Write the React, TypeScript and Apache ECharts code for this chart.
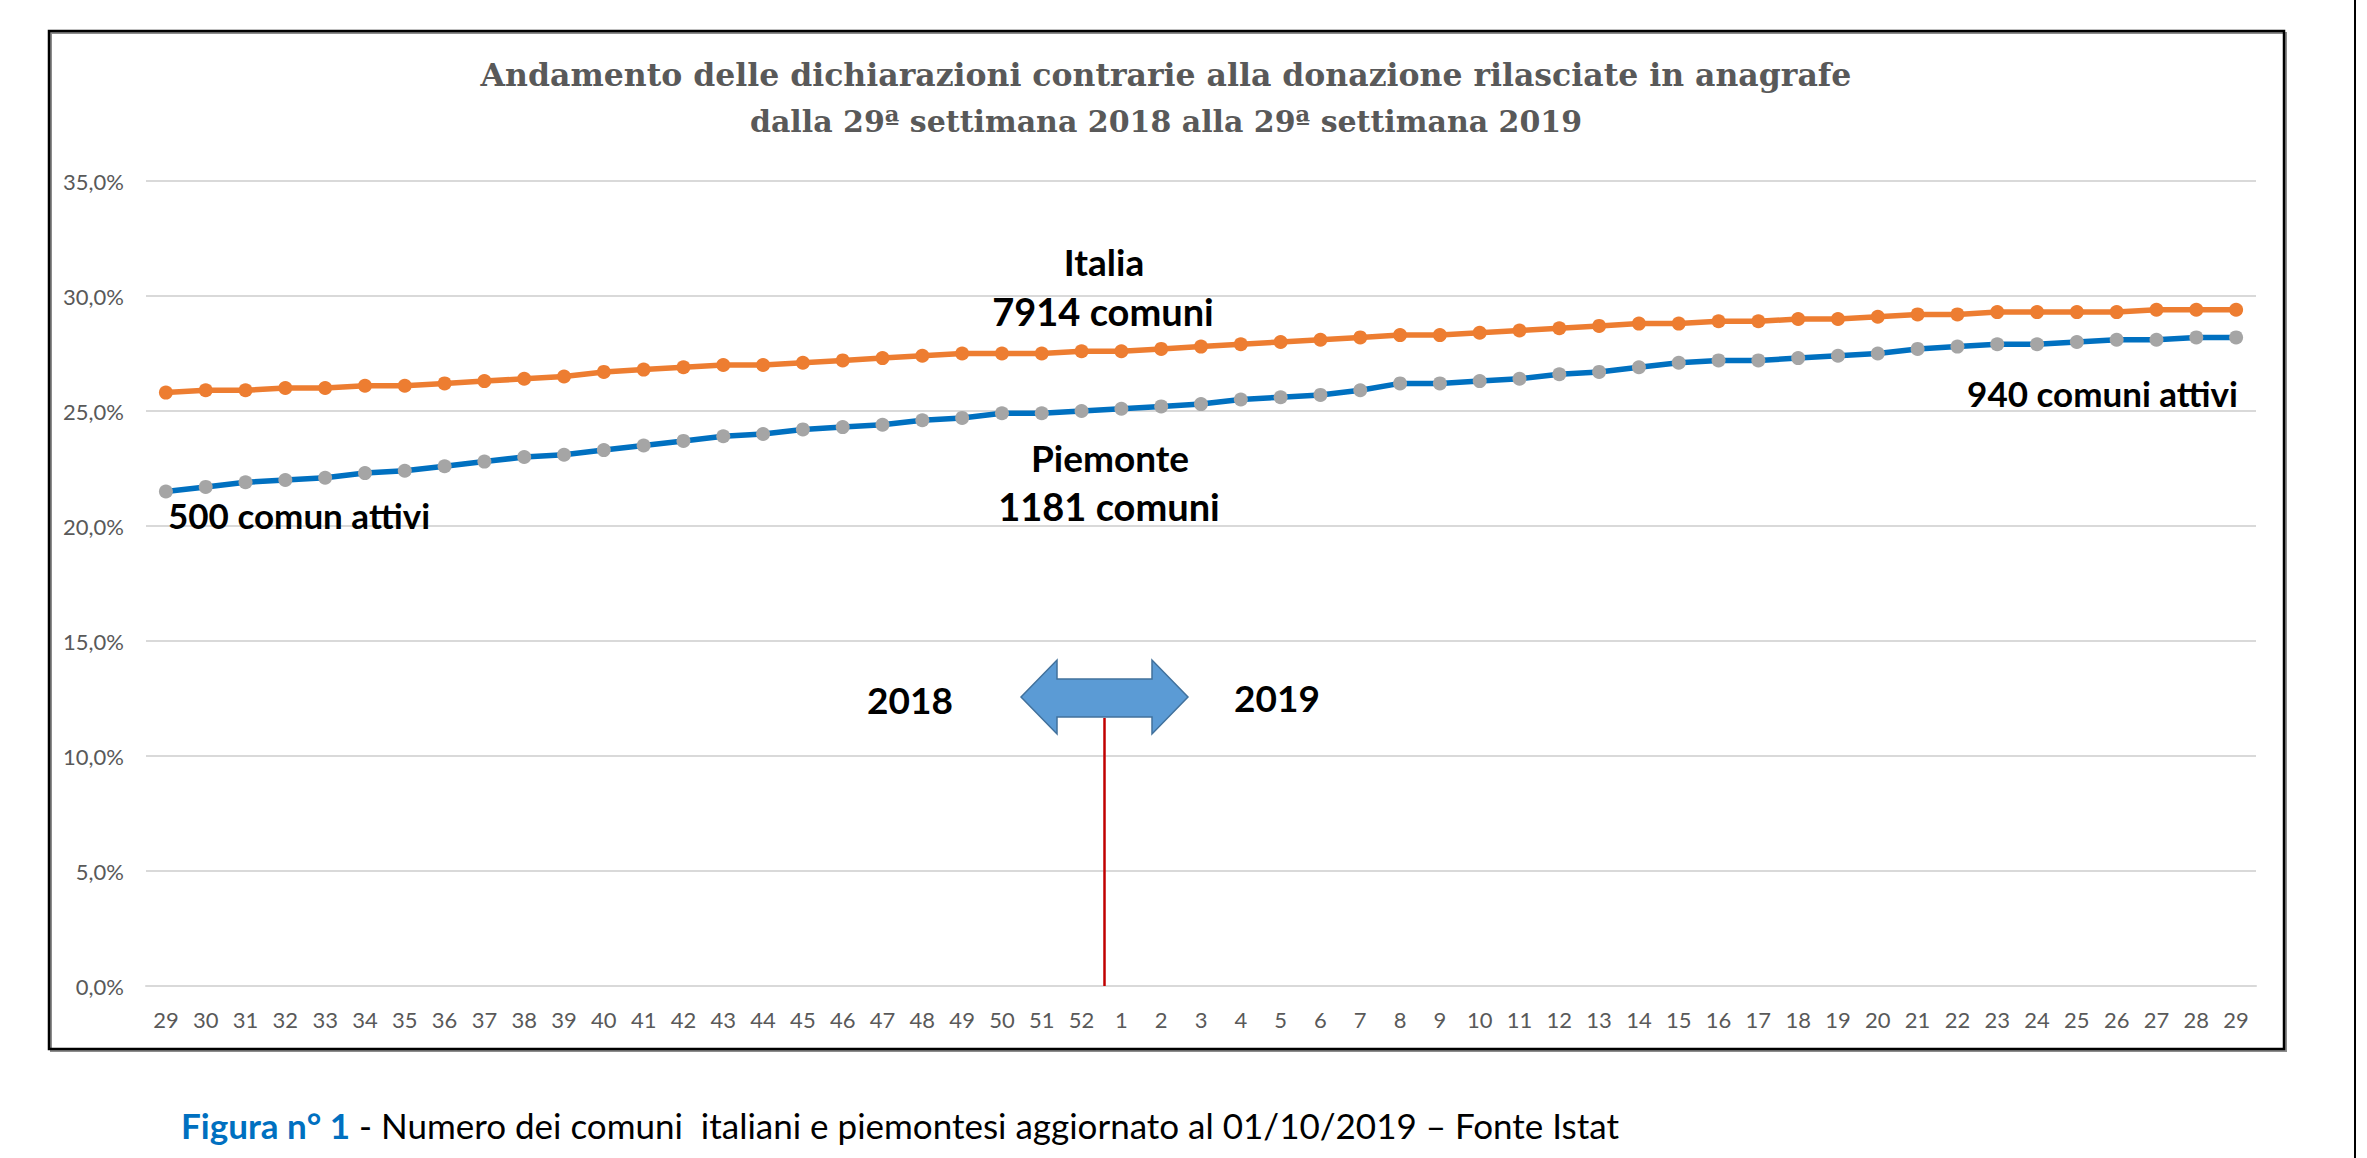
import React, { useEffect, useRef } from "react";
import * as echarts from "echarts";

const weeks: string[] = [
  "29", "30", "31", "32", "33", "34", "35", "36", "37", "38", "39", "40", "41", "42", "43", "44", "45", "46", "47", "48", "49", "50", "51", "52",
  "1", "2", "3", "4", "5", "6", "7", "8", "9", "10", "11", "12", "13", "14", "15", "16", "17", "18", "19", "20", "21", "22", "23", "24", "25", "26", "27", "28", "29",
];

const italia: number[] = [
  25.8, 25.9, 25.9, 26.0, 26.0, 26.1, 26.1, 26.2, 26.3, 26.4, 26.5, 26.7, 26.8, 26.9, 27.0, 27.0, 27.1, 27.2, 27.3, 27.4, 27.5, 27.5, 27.5, 27.6,
  27.6, 27.7, 27.8, 27.9, 28.0, 28.1, 28.2, 28.3, 28.3, 28.4, 28.5, 28.6, 28.7, 28.8, 28.8, 28.9, 28.9, 29.0, 29.0, 29.1, 29.2, 29.2, 29.3, 29.3, 29.3, 29.3, 29.4, 29.4, 29.4,
];

const piemonte: number[] = [
  21.5, 21.7, 21.9, 22.0, 22.1, 22.3, 22.4, 22.6, 22.8, 23.0, 23.1, 23.3, 23.5, 23.7, 23.9, 24.0, 24.2, 24.3, 24.4, 24.6, 24.7, 24.9, 24.9, 25.0,
  25.1, 25.2, 25.3, 25.5, 25.6, 25.7, 25.9, 26.2, 26.2, 26.3, 26.4, 26.6, 26.7, 26.9, 27.1, 27.2, 27.2, 27.3, 27.4, 27.5, 27.7, 27.8, 27.9, 27.9, 28.0, 28.1, 28.1, 28.2, 28.2,
];

const titleLines: string[] = [
  "Andamento delle dichiarazioni contrarie alla donazione rilasciate in anagrafe",
  "dalla 29ª settimana 2018 alla 29ª settimana 2019",
];

const captionBold = "Figura n° 1";
const captionRest = " - Numero dei comuni  italiani e piemontesi aggiornato al 01/10/2019 – Fonte Istat";

const SANS = "Lato, 'Open Sans', sans-serif";

export default function App() {
  const ref = useRef<HTMLDivElement>(null);

  useEffect(() => {
    document.body.style.margin = "0";
    const chart = echarts.init(ref.current!, undefined, { renderer: "svg" });
    const bold = (text: string, x: number, y: number, align: string = "center", size: number = 36) => ({
      type: "text",
      x,
      y,
      z: 20,
      style: {
        text,
        fill: "#000000",
        font: `bold ${size}px ${SANS}`,
        textAlign: align,
        textVerticalAlign: "middle",
      },
    });
    chart.setOption({
      animation: false,
      backgroundColor: "#ffffff",
      grid: { left: 146, right: 111, top: 181, bottom: 172, containLabel: false },
      xAxis: {
        type: "category",
        data: weeks,
        boundaryGap: true,
        axisLine: { show: true, lineStyle: { color: "#D9D9D9", width: 2 } },
        axisTick: { show: false },
        axisLabel: { color: "#595959", fontFamily: SANS, fontSize: 22, margin: 22, interval: 0 },
      },
      yAxis: {
        type: "value",
        min: 0,
        max: 35,
        interval: 5,
        axisLine: { show: false },
        axisTick: { show: false },
        splitLine: { lineStyle: { color: "#D9D9D9", width: 2 } },
        axisLabel: {
          color: "#595959",
          fontFamily: SANS,
          fontSize: 22,
          margin: 22,
          formatter: (v: number) => v.toFixed(1).replace(".", ",") + "%",
        },
      },
      series: [
        {
          name: "Italia",
          type: "line",
          data: italia,
          symbol: "circle",
          symbolSize: 14,
          lineStyle: { color: "#ED7D31", width: 5.5 },
          itemStyle: { color: "#ED7D31" },
          z: 3,
        },
        {
          name: "Piemonte",
          type: "line",
          data: piemonte,
          symbol: "circle",
          symbolSize: 14,
          lineStyle: { color: "#0070C0", width: 5.5 },
          itemStyle: { color: "#A5A5A5" },
          z: 3,
        },
      ],
      graphic: [
        {
          type: "rect",
          z: 1,
          shape: { x: 51, y: 33, width: 2235, height: 1018 },
          style: { fill: "none", stroke: "#8c8c8c", lineWidth: 2 },
        },
        {
          type: "rect",
          z: 2,
          shape: { x: 49, y: 31, width: 2235, height: 1018 },
          style: { fill: "none", stroke: "#000000", lineWidth: 2.5 },
        },
        {
          type: "line",
          z: 2,
          shape: { x1: 2355, y1: 0, x2: 2355, y2: 1158 },
          style: { stroke: "#000000", lineWidth: 2 },
        },
        {
          type: "text",
          x: 1166,
          y: 74,
          z: 20,
          style: {
            text: titleLines[0],
            fill: "#595959",
            font: "bold 31.5px 'DejaVu Serif', serif",
            textAlign: "center",
            textVerticalAlign: "middle",
          },
        },
        {
          type: "text",
          x: 1166,
          y: 121,
          z: 20,
          style: {
            text: titleLines[1],
            fill: "#595959",
            font: "bold 30px 'DejaVu Serif', serif",
            textAlign: "center",
            textVerticalAlign: "middle",
          },
        },
        bold("Italia", 1104, 261, "center", 37),
        bold("7914 comuni", 1103, 311, "center", 38),
        bold("Piemonte", 1110, 457, "center", 37),
        bold("1181 comuni", 1109, 506, "center", 38),
        bold("500 comun attivi", 168, 515, "left", 35),
        bold("940 comuni attivi", 2238, 393, "right", 35),
        bold("2018", 910, 699, "center", 37),
        bold("2019", 1277, 697, "center", 37),
        {
          type: "polygon",
          z: 15,
          shape: {
            points: [
              [1021, 697], [1057, 660], [1057, 679], [1152, 679], [1152, 660],
              [1188, 697], [1152, 734], [1152, 717], [1057, 717], [1057, 734],
            ],
          },
          style: { fill: "#5B9BD5", stroke: "#41719C", lineWidth: 1.5 },
        },
        {
          type: "line",
          z: 16,
          shape: { x1: 1104.5, y1: 718, x2: 1104.5, y2: 986 },
          style: { stroke: "#C00000", lineWidth: 2.5 },
        },
        {
          type: "text",
          x: 181,
          y: 1125,
          z: 20,
          style: {
            text: `{b|${captionBold}}{r|${captionRest}}`,
            textVerticalAlign: "middle",
            rich: {
              b: { font: `bold 35px ${SANS}`, fill: "#0070C0", color: "#0070C0" },
              r: { font: `35px ${SANS}`, fill: "#000000", color: "#000000" },
            },
          },
        },
      ],
    });
    return () => chart.dispose();
  }, []);

  return (
    <div
      ref={ref}
      style={{ position: "fixed", left: 0, top: 0, width: 2367, height: 1158, background: "#fff" }}
    />
  );
}
